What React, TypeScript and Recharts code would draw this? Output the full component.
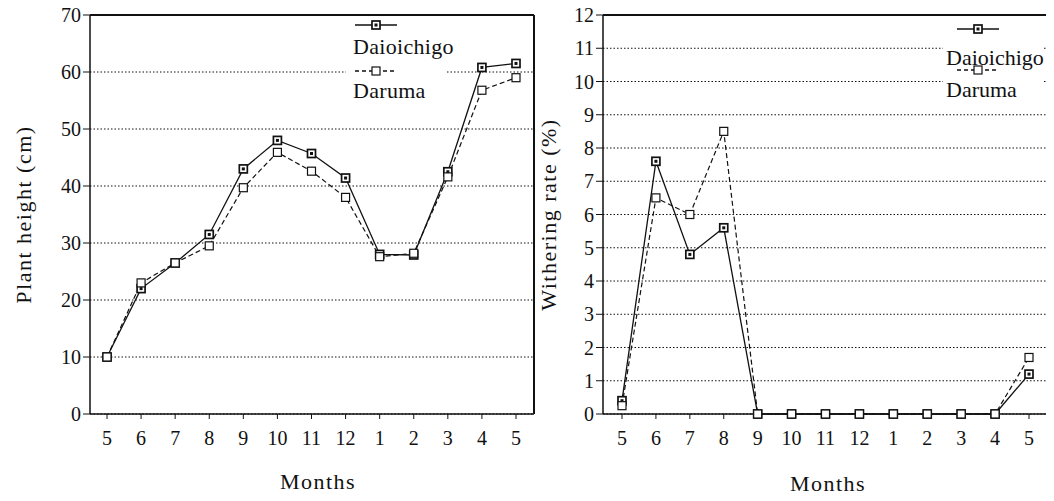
import React from 'react';
import { LineChart, Line, XAxis, YAxis, CartesianGrid, Legend, ReferenceLine } from 'recharts';

const months = ['5', '6', '7', '8', '9', '10', '11', '12', '1', '2', '3', '4', '5'];
const heightDaioichigo = [10, 22, 26.5, 31.5, 43, 48, 45.7, 41.4, 28, 27.9, 42.5, 60.8, 61.5];
const heightDaruma = [10, 23, 26.5, 29.5, 39.7, 45.9, 42.6, 38, 27.6, 28.2, 41.6, 56.8, 59];
const witherDaioichigo = [0.4, 7.6, 4.8, 5.6, 0, 0, 0, 0, 0, 0, 0, 0, 1.2];
const witherDaruma = [0.25, 6.5, 6.0, 8.5, 0, 0, 0, 0, 0, 0, 0, 0, 1.7];
const heightTicks = [0, 10, 20, 30, 40, 50, 60, 70];
const witherTicks = [0, 1, 2, 3, 4, 5, 6, 7, 8, 9, 10, 11, 12];
const monthTicks = months.map((_, i) => i);

const heightData = months.map((m, i) => ({ i, month: m, daio: heightDaioichigo[i], daruma: heightDaruma[i] }));
const witherData = months.map((m, i) => ({ i, month: m, daio: witherDaioichigo[i], daruma: witherDaruma[i] }));

const INK = '#111';
const TICK_FONT = { fill: INK, fontSize: 20 };
const AXIS_LINE = { stroke: INK, strokeWidth: 1.5 };
const DASH = '5 3';
const CHART_H = 501;
const PLOT_TOP = 15;
const X_AXIS_H = 80;
const BOTTOM = 7;

const filledSquare = (props: any) => {
  const { cx, cy, index } = props;
  if (cx == null || cy == null) return <g key={`f-${index}`} />;
  return (
    <g key={`f-${index}`}>
      <rect x={cx - 4} y={cy - 4} width={8} height={8} fill="#fff" stroke={INK} strokeWidth={1.7} />
      <rect x={cx - 1.5} y={cy - 1.5} width={3} height={3} fill={INK} />
    </g>
  );
};

const hollowSquare = (props: any) => {
  const { cx, cy, index } = props;
  if (cx == null || cy == null) return <g key={`h-${index}`} />;
  return <rect key={`h-${index}`} x={cx - 4} y={cy - 4} width={8} height={8} fill="#fff" stroke={INK} strokeWidth={1.2} />;
};

const YTitle = (props: any) => {
  const vb = props.viewBox || { y: 15, height: 400 };
  const cy = vb.y + vb.height / 2;
  const x = props.at;
  return (
    <text x={x} y={cy} transform={`rotate(-90 ${x} ${cy})`} textAnchor="middle" dominantBaseline="central"
      fill={INK} fontSize={22} letterSpacing={1.5}>
      {props.title}
    </text>
  );
};

const XTitle = (props: any) => {
  const vb = props.viewBox || { x: 90, y: 414, width: 444 };
  return (
    <text x={vb.x + vb.width / 2 + props.shift} y={vb.y + props.drop} textAnchor="middle"
      fill={INK} fontSize={22} letterSpacing={1.5}>
      {props.title}
    </text>
  );
};

type LegendSpec = {
  w: number; h: number; bg: [number, number, number, number];
  symX: number; textX: number; symY: number[]; textY: number[]; spacing: number;
};

const PanelLegend = (props: any) => {
  const spec: LegendSpec = props.spec;
  const items = props.payload || [];
  return (
    <svg width={spec.w} height={spec.h} style={{ display: 'block' }}>
      <rect x={spec.bg[0]} y={spec.bg[1]} width={spec.bg[2]} height={spec.bg[3]} fill="#fff" />
      {items.map((p: any, k: number) => {
        const dashed = p.dataKey === 'daruma';
        const y = spec.symY[k];
        const mx = spec.symX + 21;
        return (
          <g key={p.dataKey}>
            <line x1={spec.symX} x2={spec.symX + 42} y1={y} y2={y} stroke={INK} strokeWidth={1.3}
              strokeDasharray={dashed ? '4 3' : undefined} />
            {dashed ? hollowSquare({ cx: mx, cy: y, index: k }) : filledSquare({ cx: mx, cy: y, index: k })}
            <text x={spec.textX} y={spec.textY[k]} fill={INK} fontSize={22} letterSpacing={spec.spacing}>
              {p.value}
            </text>
          </g>
        );
      })}
    </svg>
  );
};

const leftLegend: LegendSpec = { w: 112, h: 90, bg: [0, 6, 100, 84], symX: 9, textX: 7, symY: [11, 57], textY: [40, 84], spacing: 0.3 };
const rightLegend: LegendSpec = { w: 102, h: 90, bg: [0, 6, 100, 84], symX: 14, textX: 3, symY: [15, 56], textY: [51, 83], spacing: 0 };

// right edge of the plot box (axes draw left and bottom, a reference line draws the top)
function RightEdge(props: { left: number; width: number; marginRight: number }) {
  const plotH = CHART_H - PLOT_TOP - X_AXIS_H - BOTTOM;
  return (
    <div style={{
      position: 'absolute', pointerEvents: 'none', zIndex: 5,
      left: props.left + props.width - props.marginRight - 1, top: PLOT_TOP,
      width: 2, height: plotH, background: INK,
    }} />
  );
}

function Panel(props: {
  data: any[]; width: number; yWidth: number; marginRight: number;
  yMax: number; yTicks: number[]; pad: { left: number; right: number };
  yTitle: string; yTitleAt: number; xShift: number; xDrop: number;
  legend: LegendSpec; legendLeft: number;
}) {
  return (
    <LineChart width={props.width} height={CHART_H} data={props.data}
      margin={{ top: PLOT_TOP, right: props.marginRight, bottom: BOTTOM, left: 0 }}>
      <CartesianGrid vertical={false} stroke={INK} strokeWidth={1} strokeDasharray="1.5 2" />
      <ReferenceLine y={props.yMax} stroke={INK} strokeWidth={2} ifOverflow="visible" />
      <XAxis dataKey="i" type="number" domain={[0, 12]} ticks={monthTicks} interval={0}
        tickFormatter={(v: number) => months[v]} padding={props.pad} height={X_AXIS_H}
        axisLine={AXIS_LINE} tickLine={{ stroke: INK }} tickSize={5} tickMargin={12} tick={TICK_FONT}
        label={<XTitle title="Months" shift={props.xShift} drop={props.xDrop} />} />
      <YAxis type="number" domain={[0, props.yMax]} ticks={props.yTicks} interval={0} width={props.yWidth}
        axisLine={AXIS_LINE} tickLine={{ stroke: INK }} tickSize={7} tickMargin={2} tick={TICK_FONT}
        label={<YTitle title={props.yTitle} at={props.yTitleAt} />} />
      <Legend layout="vertical" align="center" verticalAlign="middle"
        wrapperStyle={{ left: props.legendLeft, top: 14, width: props.legend.w, height: props.legend.h }}
        content={(p: any) => <PanelLegend {...p} spec={props.legend} />} />
      <Line dataKey="daio" name="Daioichigo" stroke={INK} strokeWidth={1.3} dot={filledSquare}
        activeDot={false} isAnimationActive={false} />
      <Line dataKey="daruma" name="Daruma" stroke={INK} strokeWidth={1.2} strokeDasharray={DASH}
        dot={hollowSquare} activeDot={false} isAnimationActive={false} />
    </LineChart>
  );
}

export default function App() {
  return (
    <div style={{ position: 'relative', margin: -8, width: 1054, height: 501, background: '#fff' }}>
      <div style={{ position: 'absolute', left: 0, top: 0 }}>
        <Panel data={heightData} width={540} yWidth={90} marginRight={6}
          yMax={70} yTicks={heightTicks} pad={{ left: 17, right: 18 }}
          yTitle="Plant height (cm)" yTitleAt={23} xShift={6} xDrop={75}
          legend={leftLegend} legendLeft={346} />
      </div>
      <div style={{ position: 'absolute', left: 530, top: 0 }}>
        <Panel data={witherData} width={524} yWidth={73} marginRight={7}
          yMax={12} yTicks={witherTicks} pad={{ left: 19, right: 18 }}
          yTitle="Withering rate (%)" yTitleAt={18} xShift={3} xDrop={77}
          legend={rightLegend} legendLeft={413} />
      </div>
      <RightEdge left={0} width={540} marginRight={6} />
      <RightEdge left={530} width={524} marginRight={7} />
    </div>
  );
}
